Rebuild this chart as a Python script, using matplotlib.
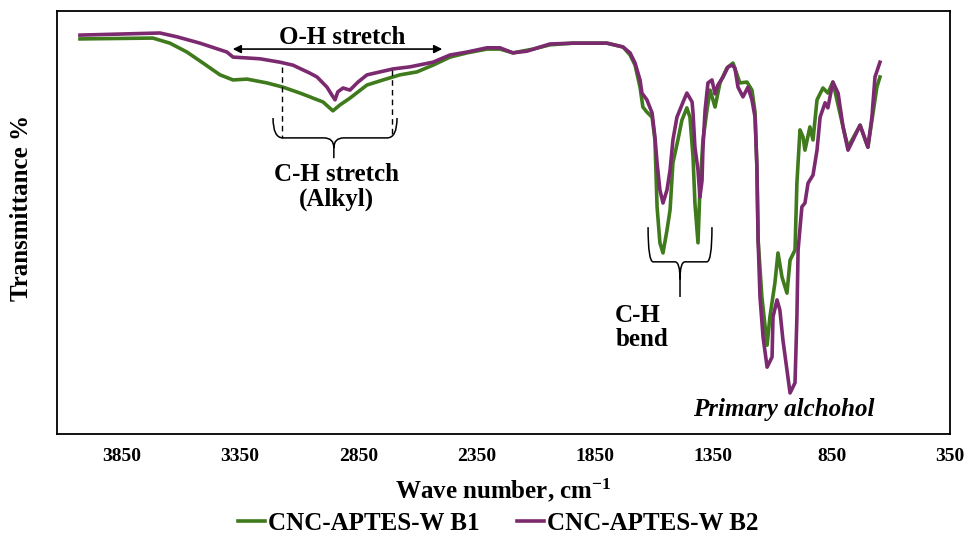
import matplotlib.pyplot as plt
import numpy as np
from matplotlib.path import Path
from matplotlib.patches import PathPatch

plt.rcParams['font.family'] = ['Liberation Serif', 'DejaVu Serif']
plt.rcParams['font.weight'] = 'bold'
plt.rcParams['mathtext.fontset'] = 'custom'
plt.rcParams['mathtext.rm'] = 'Liberation Serif:bold'
plt.rcParams['mathtext.bf'] = 'Liberation Serif:bold'
plt.rcParams['mathtext.default'] = 'bf'

# CNC-APTES-W B2 (purple)
wn_b2 = [4027, 3689, 3617, 3520, 3406, 3380, 3321, 3266, 3182, 3127, 3055, 3025, 2983, 2962,
         2949, 2937, 2915, 2886, 2852, 2814, 2759, 2704, 2632, 2535, 2463, 2391, 2307, 2252,
         2197, 2138, 2041, 1943, 1800, 1732, 1702, 1681, 1660, 1652, 1631, 1609, 1597, 1588,
         1576, 1563, 1546, 1533, 1521, 1504, 1478, 1462, 1440, 1436, 1428, 1415, 1407, 1398,
         1394, 1385, 1373, 1356, 1343, 1331, 1309, 1288, 1271, 1259, 1246, 1225, 1204, 1187,
         1174, 1166, 1161, 1153, 1140, 1123, 1102, 1098, 1081, 1069, 1056, 1039, 1026, 1005,
         997, 992, 976, 963, 950, 929, 912, 899, 878, 866, 845, 823, 802, 781, 760, 730,
         697, 680, 667, 646]
t_b2 = [94.3, 94.8, 93.9, 92.4, 90.3, 89.1, 88.9, 88.7, 87.9, 87.2, 85.3, 84.4, 82.0, 80.1,
        79.0, 80.9, 81.8, 81.3, 83.2, 84.9, 85.6, 86.3, 86.8, 87.9, 89.6, 90.3, 91.3, 91.3,
        90.1, 90.5, 92.2, 92.4, 92.4, 91.5, 90.1, 87.7, 83.7, 80.6, 79.0, 75.9, 70.2, 64.1,
        57.7, 54.6, 57.7, 62.4, 69.5, 74.9, 78.5, 80.6, 78.5, 75.9, 67.8, 62.4, 56.0, 59.9,
        67.8, 76.6, 83.0, 83.7, 80.4, 82.5, 84.4, 86.8, 87.2, 86.5, 82.0, 79.7, 82.0, 79.0,
        74.9, 63.1, 45.9, 32.4, 22.9, 15.8, 18.2, 27.7, 31.7, 29.3, 22.2, 15.1, 9.7, 12.1,
        27.7, 43.5, 53.7, 54.6, 59.3, 61.2, 67.1, 74.9, 78.3, 77.1, 83.2, 80.6, 72.6, 67.1, 69.5, 73.0,
        67.8, 74.9, 84.4, 87.9]

# CNC-APTES-W B1 (green)
wn_b1 = [4027, 3719, 3647, 3575, 3507, 3435, 3380, 3321, 3237, 3169, 3097, 3055, 3042, 3000,
         2958, 2928, 2886, 2814, 2746, 2675, 2603, 2535, 2463, 2391, 2307, 2252, 2197, 2112,
         2041, 1943, 1800, 1732, 1702, 1681, 1660, 1648, 1631, 1609, 1597, 1588, 1576, 1563,
         1546, 1533, 1521, 1500, 1483, 1462, 1449, 1436, 1428, 1415, 1407, 1394, 1377, 1364,
         1343, 1322, 1293, 1267, 1238, 1208, 1187, 1174, 1166, 1161, 1145, 1123, 1111, 1090,
         1077, 1060, 1039, 1026, 1005, 997, 984, 971, 963, 942, 929, 912, 887, 866, 845, 802,
         781, 730, 697, 659, 646]
t_b1 = [93.4, 93.6, 92.4, 90.3, 87.7, 84.9, 83.7, 83.9, 83.0, 82.0, 80.6, 79.7, 79.4, 78.5,
        76.4, 77.8, 79.4, 82.5, 83.7, 84.9, 85.6, 87.2, 89.1, 90.1, 91.0, 91.0, 90.1, 91.0,
        92.0, 92.4, 92.4, 91.5, 89.6, 87.2, 82.0, 77.3, 76.1, 74.9, 69.5, 53.7, 45.2, 42.8,
        48.2, 53.0, 64.1, 69.5, 74.2, 77.1, 74.9, 65.5, 54.6, 45.2, 57.7, 69.5, 76.6, 81.3,
        77.3, 83.0, 86.5, 87.7, 83.0, 83.2, 81.3, 76.1, 63.1, 45.9, 32.4, 21.0, 27.7, 35.7,
        42.8, 37.1, 33.3, 41.1, 43.5, 59.3, 71.9, 70.2, 67.1, 72.6, 69.5, 79.0, 81.8, 80.6, 83.2, 72.6,
        67.8, 73.0, 67.8, 82.0, 84.4]

xticks = [3850, 3350, 2850, 2350, 1850, 1350, 850, 350]

green = '#3F7A1C'
purple = '#7C2A70'

fig = plt.figure(figsize=(9.67, 5.44), dpi=100)
ax = fig.add_axes([57/967, 1 - 434/544, (950 - 57)/967, (434 - 11)/544])

ax.plot(wn_b1, t_b1, color=green, lw=2.6, label='CNC-APTES-W B1', solid_joinstyle='round')
ax.plot(wn_b2, t_b2, color=purple, lw=2.6, label='CNC-APTES-W B2', solid_joinstyle='round')

ax.set_xlim(4124, 350)
ax.set_ylim(0, 100)
ax.set_xticks(xticks)
ax.set_xticklabels([str(v) for v in xticks], fontsize=14, fontweight='bold')
ax.tick_params(axis='x', length=0, pad=10)
ax.set_yticks([])
for s in ax.spines.values():
    s.set_linewidth(1.3)
    s.set_color('black')

ax.set_xlabel(r'Wave number, cm$^{-1}$', fontsize=18, fontweight='bold', labelpad=8)
ax.set_ylabel('Transmittance %', fontsize=18, fontweight='bold')
ax.yaxis.set_label_coords(-0.027, 0.535)

# O-H stretch arrow
ax.annotate('', xy=(3393, 91.0), xytext=(2484, 91.0),
            arrowprops=dict(arrowstyle='<|-|>', color='black', lw=1.2, mutation_scale=12))
ax.text(2920, 93.8, 'O-H stretch', ha='center', va='center', fontsize=18, fontweight='bold')

# dashed guides
ax.plot([3173, 3173], [86.8, 70.0], color='black', lw=1, ls=(0, (4, 3)))
ax.plot([2708, 2708], [86.1, 70.0], color='black', lw=1, ls=(0, (4, 3)))


def brace(x_left, x_right, y_top, y_bot, x_mid, y_tip):
    w = (x_left - x_right) * 0.08
    h = (y_top - y_bot)
    verts = [(x_left, y_top), (x_left, y_bot), (x_left - w, y_bot),
             (x_mid + w, y_bot), (x_mid, y_bot), (x_mid, y_bot - h * 0.5),
             (x_mid, y_tip),
             (x_mid, y_bot - h * 0.5), (x_mid, y_bot), (x_mid - w, y_bot),
             (x_right + w, y_bot), (x_right, y_bot), (x_right, y_top)]
    codes = [Path.MOVETO, Path.CURVE3, Path.CURVE3,
             Path.LINETO, Path.CURVE3, Path.CURVE3,
             Path.LINETO,
             Path.MOVETO, Path.CURVE3, Path.CURVE3,
             Path.LINETO, Path.CURVE3, Path.CURVE3]
    ax.add_patch(PathPatch(Path(verts, codes), fill=False, color='black', lw=1.1))


brace(3211, 2687, 74.7, 70.0, 2954, 65.2)
ax.text(2941, 58.4, 'C-H stretch\n(Alkyl)', ha='center', va='center', fontsize=18,
        fontweight='bold', linespacing=1.05)

brace(1626, 1356, 48.9, 40.7, 1491, 32.4)
ax.text(1765, 25.1, 'C-H\nbend', ha='left', va='center', fontsize=18,
        fontweight='bold', linespacing=1.05)

ax.text(1052, 5.9, 'Primary alchohol', ha='center', va='center', fontsize=18,
        fontweight='bold', style='italic')

fig.legend(loc='center', bbox_to_anchor=(0.515, 1 - 523/544), ncol=2, frameon=False,
           handlelength=1.1, handletextpad=0.1, columnspacing=1.5,
           prop={'weight': 'bold', 'size': 18})

fig.savefig('out.png', dpi=100)
